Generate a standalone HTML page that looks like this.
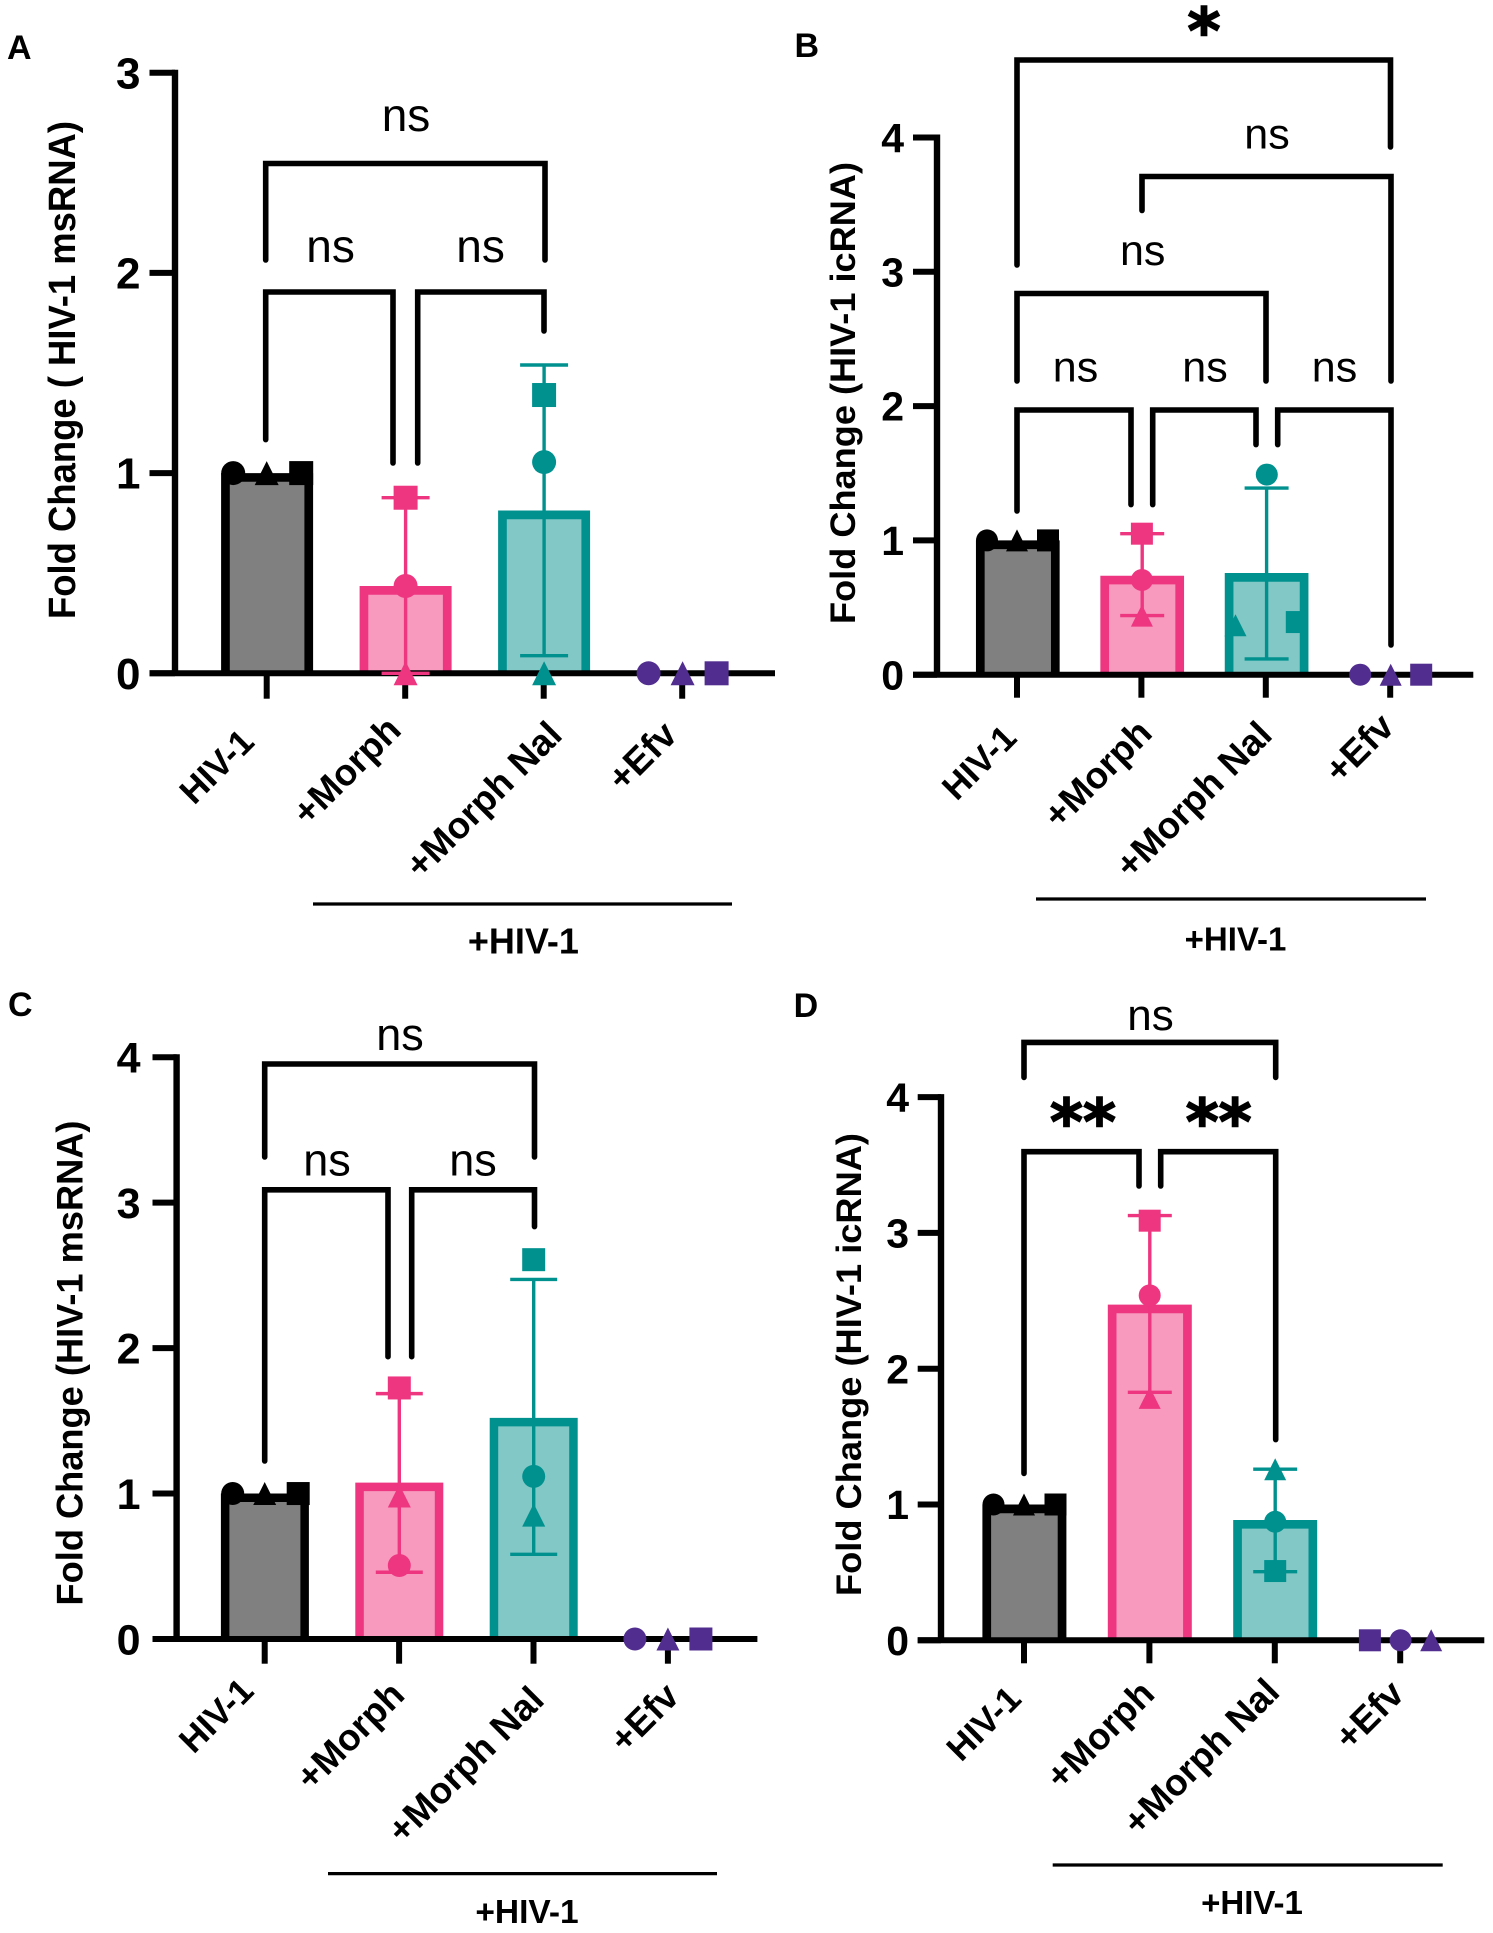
<!DOCTYPE html>
<html lang="en">
<head>
<meta charset="utf-8">
<title>HIV-1 fold change panels</title>
<style>
html,body{margin:0;padding:0;background:#fff;}
svg{display:block;}
text{font-family:"Liberation Sans",Arial,sans-serif;fill:#000;}
</style>
</head>
<body>
<svg id="figure" xmlns="http://www.w3.org/2000/svg" width="1493" height="1933" viewBox="0 0 1493 1933"></svg>
<script>
// ---------- shared categories ----------
const categories = ['HIV-1', '+Morph', '+Morph Nal', '+Efv'];

// ---------- panel A values ----------
const panelAMeans = [1, 0.436, 0.813, 0];
const panelAErrHigh = [1, 0.877, 1.54, 0];
const panelAErrLow = [1, 0, 0.088, 0];
const panelACircles = [1, 0.436, 1.055, 0];
const panelATriangles = [1, 0, 0, 0];
const panelASquares = [1, 0.877, 1.39, 0];
const panelATicks = [0, 1, 2, 3];

// ---------- panel B values ----------
const panelBMeans = [1, 0.737, 0.757, 0];
const panelBErrHigh = [1, 1.05, 1.39, 0];
const panelBErrLow = [1, 0.44, 0.117, 0];
const panelBCircles = [1, 0.705, 1.49, 0];
const panelBTriangles = [1, 0.44, 0.368, 0];
const panelBSquares = [1, 1.05, 0.392, 0];
const panelBTicks = [0, 1, 2, 3, 4];

// ---------- panel C values ----------
const panelCMeans = [1, 1.075, 1.52, 0];
const panelCErrHigh = [1, 1.687, 2.472, 0];
const panelCErrLow = [1, 0.459, 0.582, 0];
const panelCCircles = [1, 0.505, 1.118, 0];
const panelCTriangles = [1, 0.983, 0.852, 0];
const panelCSquares = [1, 1.726, 2.608, 0];
const panelCTicks = [0, 1, 2, 3, 4];

// ---------- panel D values ----------
const panelDMeans = [1, 2.472, 0.886, 0];
const panelDErrHigh = [1, 3.128, 1.26, 0];
const panelDErrLow = [1, 1.826, 0.505, 0];
const panelDCircles = [1, 2.54, 0.873, 0];
const panelDTriangles = [1, 1.785, 1.26, 0];
const panelDSquares = [1, 3.09, 0.51, 0];
const panelDTicks = [0, 1, 2, 3, 4];

// ---------- styling ----------
const strokeColors = ['#000000', '#ee3580', '#00918f', '#512d8f'];
const fillColors = ['#808080', '#f79abe', '#82c8c6', '#ffffff'];
const labelFonts = [35, 37, 37, 37];

const NS = 'http://www.w3.org/2000/svg';
const root = document.getElementById('figure');

function make(parent, tag, attrs, content) {
  const node = document.createElementNS(NS, tag);
  for (const key in attrs) node.setAttribute(key, attrs[key]);
  if (content !== undefined) node.textContent = content;
  parent.appendChild(node);
  return node;
}

function drawPanel(p) {
  const panel = make(root, 'g', {});
  
  

  const xScale = i => p.x0 + i * p.xStep;
  const yScale = v => p.y0 - v * p.yUnit;
  const topY = yScale(p.ticks[p.ticks.length - 1]);

  const letter = make(panel, 'text', {x: p.letterPos[0], y: p.letterPos[1], 'font-size': 34, 'font-weight': 'bold'}, p.letter);
  
  

  // bars: outline open at the baseline, so the fill runs down to the x axis
  categories.forEach((cat, i) => {
    if (p.means[i] <= 0) return;
    const s = p.barStroke;
    const left = xScale(i) + p.barShift - p.barWidth / 2 + s / 2;
    const right = xScale(i) + p.barShift + p.barWidth / 2 - s / 2;
    const top = yScale(p.means[i]) + s / 2;
    const bar = make(panel, 'path', {
      d: 'M' + left + ' ' + p.y0 + 'V' + top + 'H' + right + 'V' + p.y0,
      fill: fillColors[i],
      stroke: strokeColors[i],
      'stroke-width': s
    });
    
    
  });

  // axes
  const yAxis = make(panel, 'line', {x1: p.axisX, x2: p.axisX, y1: topY - 3, y2: p.y0, stroke: '#000', 'stroke-width': 6.4});
  
  

  const xAxis = make(panel, 'line', {x1: p.tickLeft, x2: p.axisRight, y1: p.y0, y2: p.y0, stroke: '#000', 'stroke-width': 6});
  
  

  p.ticks.forEach(t => {
    const tick = make(panel, 'line', {x1: p.tickLeft, x2: p.axisX, y1: yScale(t), y2: yScale(t), stroke: '#000', 'stroke-width': 6});
    
    

    const label = make(panel, 'text', {x: p.tickLabelX, y: yScale(t) + p.tickFont * 0.355, 'font-size': p.tickFont, 'font-weight': 'bold', 'text-anchor': 'end'}, String(t));
    
    
  });

  categories.forEach((cat, i) => {
    const tick = make(panel, 'line', {x1: xScale(i), x2: xScale(i), y1: p.y0, y2: p.y0 + p.tickDown, stroke: '#000', 'stroke-width': 6});
    
    

    const pos = p.labelEnds[i];
    const label = make(panel, 'text', {x: 0, y: 0, 'font-size': labelFonts[i], 'font-weight': 'bold', 'text-anchor': 'end', transform: 'translate(' + pos[0] + ' ' + pos[1] + ') rotate(-45)'}, cat);
    
    
  });

  // y title
  const title = make(panel, 'text', {
    x: 0, y: 0, 'font-size': p.titleFont, 'font-weight': 'bold', 'text-anchor': 'middle',
    textLength: p.titleLength, lengthAdjust: 'spacingAndGlyphs',
    transform: 'translate(' + p.titlePos[0] + ' ' + p.titlePos[1] + ') rotate(-90)'
  }, p.title);
  
  

  // error bars
  categories.forEach((cat, i) => {
    if (p.errHigh[i] === p.errLow[i]) return;
    const cx = xScale(i) + p.barShift;
    const stem = make(panel, 'line', {x1: cx, x2: cx, y1: yScale(p.errHigh[i]), y2: yScale(p.errLow[i]), stroke: strokeColors[i], 'stroke-width': 3.4});
    
    

    [p.errHigh[i], p.errLow[i]].forEach(v => {
      const cap = make(panel, 'line', {x1: cx - p.capHalf, x2: cx + p.capHalf, y1: yScale(v), y2: yScale(v), stroke: strokeColors[i], 'stroke-width': 3.4});
      
      
    });
  });

  // data points
  const r = p.markerR;
  categories.forEach((cat, i) => {
    const offs = p.offsets[i];
    const cxC = xScale(i) + offs[0], cxT = xScale(i) + offs[1], cxS = xScale(i) + offs[2];

    const cyC = yScale(p.circles[i]);
    const circle = make(panel, 'circle', {cx: cxC, cy: cyC, r: r, fill: strokeColors[i]});
    
    

    const cyT = yScale(p.triangles[i]);
    const tri = make(panel, 'polygon', {points: [cxT, cyT - r, cxT + r, cyT + r, cxT - r, cyT + r].join(' '), fill: strokeColors[i]});
    
    

    const cyS = yScale(p.squares[i]);
    const sq = make(panel, 'rect', {x: cxS - r, y: cyS - r, width: 2 * r, height: 2 * r, fill: strokeColors[i]});
    
    
  });

  // significance brackets: [x1, x2, yTop, leftBottom, rightBottom]
  p.brackets.forEach(b => {
    const path = make(panel, 'path', {
      d: 'M' + b[0] + ' ' + b[3] + 'V' + b[2] + 'H' + b[1] + 'V' + b[4],
      fill: 'none', stroke: '#000', 'stroke-width': 5.6, 'stroke-linecap': 'round', 'stroke-linejoin': 'miter'
    });
    
    
  });

  p.nsLabels.forEach(n => {
    const ns = make(panel, 'text', {x: n[0], y: n[1], 'font-size': p.nsFont, 'text-anchor': 'middle'}, 'ns');
    
    
  });

  p.starLabels.forEach(n => {
    const star = make(panel, 'text', {x: n[0], y: n[1], 'font-size': 63, 'font-weight': 'bold', 'text-anchor': 'middle', stroke: '#000', 'stroke-width': 1.6, style: 'font-family:"DejaVu Sans",sans-serif'}, n[2]);
    
    
  });

  // group underline
  const under = make(panel, 'line', {x1: p.under[0], x2: p.under[1], y1: p.under[2], y2: p.under[2], stroke: '#000', 'stroke-width': 3.2});
  
  

  const group = make(panel, 'text', {x: p.groupPos[0], y: p.groupPos[1], 'font-size': p.groupFont, 'font-weight': 'bold', 'text-anchor': 'middle'}, '+HIV-1');
  
  
}

drawPanel({
  letter: 'A', letterPos: [7, 59], title: 'Fold Change ( HIV-1 msRNA)', titlePos: [75, 370], titleLength: 498, titleFont: 38,
  means: panelAMeans, errHigh: panelAErrHigh, errLow: panelAErrLow,
  circles: panelACircles, triangles: panelATriangles, squares: panelASquares, ticks: panelATicks,
  x0: 266.7, xStep: 138.5, y0: 673.3, yUnit: 200.2, axisX: 175, tickLeft: 149.5, axisRight: 775, tickDown: 25.4,
  barWidth: 92, barStroke: 8.7, barShift: 0.4, capHalf: 24, markerR: 12, tickLabelX: 140.5, tickFont: 44, nsFont: 46,
  offsets: [[-33.5, 0, 34.5], [0.4, 0.4, 0.4], [0.4, 0.4, 0.4], [-33.6, 0.4, 34.4]],
  labelEnds: [[256, 744], [403, 732], [564, 737], [679, 737]],
  brackets: [[265.7, 545, 163.5, 260, 260], [265.7, 393, 292, 439.6, 463], [417.7, 544, 292, 463, 331]],
  nsLabels: [[406, 131], [330.6, 262], [480.6, 262]], starLabels: [],
  under: [313, 732, 904], groupPos: [523.4, 953.6], groupFont: 36
});

drawPanel({
  letter: 'B', letterPos: [794.5, 57], title: 'Fold Change (HIV-1 icRNA)', titlePos: [855, 393], titleLength: 462, titleFont: 35.5,
  means: panelBMeans, errHigh: panelBErrHigh, errLow: panelBErrLow,
  circles: panelBCircles, triangles: panelBTriangles, squares: panelBSquares, ticks: panelBTicks,
  x0: 1017, xStep: 124.4, y0: 674.7, yUnit: 134.3, axisX: 937, tickLeft: 913, axisRight: 1473.3, tickDown: 23,
  barWidth: 83.7, barStroke: 8.7, barShift: 0.8, capHalf: 22, markerR: 11, tickLabelX: 904, tickFont: 41, nsFont: 43,
  offsets: [[-30, 0, 31], [0.5, 0.5, 0.5], [1, -30.3, 31], [-30, 0.5, 31]],
  labelEnds: [[1018.5, 740], [1154, 735], [1274, 737], [1396, 729]],
  brackets: [[1017, 1390.5, 60, 265, 147], [1142, 1391, 176.5, 210.5, 381], [1017, 1266, 293.5, 381, 381],
             [1017, 1131, 410, 511, 504.6], [1152.7, 1256, 410, 504.6, 444.6], [1277.7, 1391, 410, 444.6, 645]],
  nsLabels: [[1267, 148.6], [1142.7, 265], [1075.5, 381.4], [1205, 381.4], [1334.5, 381.4]],
  starLabels: [[1204, 53, '*']],
  under: [1036, 1426, 899], groupPos: [1235.5, 950.5], groupFont: 33
});

drawPanel({
  letter: 'C', letterPos: [8, 1016], title: 'Fold Change (HIV-1 msRNA)', titlePos: [82.5, 1363], titleLength: 485, titleFont: 37,
  means: panelCMeans, errHigh: panelCErrHigh, errLow: panelCErrLow,
  circles: panelCCircles, triangles: panelCTriangles, squares: panelCSquares, ticks: panelCTicks,
  x0: 264.7, xStep: 134.4, y0: 1639, yUnit: 145.45, axisX: 176.6, tickLeft: 152.5, axisRight: 757.4, tickDown: 24.7,
  barWidth: 88, barStroke: 8.5, barShift: 0.2, capHalf: 23.5, markerR: 11.5, tickLabelX: 140.5, tickFont: 43, nsFont: 45,
  offsets: [[-32, 0, 33.5], [0.2, 0.2, 0.2], [0.2, 0.2, 0.2], [-33, 0, 33]],
  labelEnds: [[255.5, 1693], [406.5, 1697], [546, 1702], [681, 1698.5]],
  brackets: [[264.7, 534.5, 1064, 1157, 1157], [264.7, 388, 1189.8, 1461, 1356.7], [411.7, 534.5, 1189.8, 1356.7, 1226.6]],
  nsLabels: [[400, 1049.8], [327, 1175.6], [473, 1175.6]], starLabels: [],
  under: [328, 717, 1873.6], groupPos: [527, 1923], groupFont: 33.5
});

drawPanel({
  letter: 'D', letterPos: [793.6, 1017], title: 'Fold Change (HIV-1 icRNA)', titlePos: [861, 1364.5], titleLength: 463, titleFont: 35.5,
  means: panelDMeans, errHigh: panelDErrHigh, errLow: panelDErrLow,
  circles: panelDCircles, triangles: panelDTriangles, squares: panelDSquares, ticks: panelDTicks,
  x0: 1024, xStep: 125.4, y0: 1640.3, yUnit: 135.8, axisX: 941, tickLeft: 917.7, axisRight: 1484.3, tickDown: 23,
  barWidth: 84, barStroke: 8.7, barShift: 0.4, capHalf: 22, markerR: 11, tickLabelX: 909, tickFont: 41, nsFont: 44,
  offsets: [[-30.5, 0, 31.5], [0.3, 0.3, 0.3], [0.4, 0.4, 0.4], [0.4, 31, -30.3]],
  labelEnds: [[1023, 1701], [1156.5, 1696], [1281.5, 1694], [1406, 1696]],
  brackets: [[1024, 1275.7, 1042.4, 1077.4, 1077.4], [1024, 1139, 1151.7, 1473.4, 1186], [1160.7, 1275.7, 1151.7, 1186, 1439.6]],
  nsLabels: [[1150.5, 1030]], starLabels: [[1083, 1144, '**'], [1218.7, 1144, '**']],
  under: [1052.7, 1442.7, 1865], groupPos: [1252, 1914], groupFont: 33
});
</script>
</body>
</html>
